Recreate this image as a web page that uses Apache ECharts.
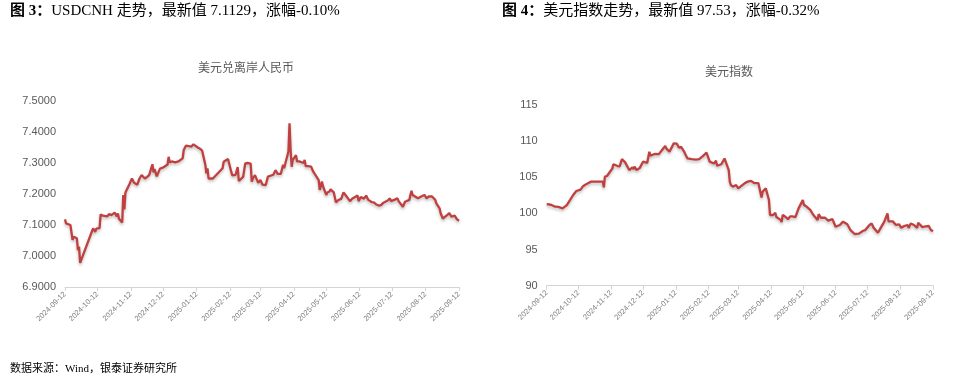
<!DOCTYPE html>
<html><head><meta charset="utf-8">
<script src="https://cdn.jsdelivr.net/npm/echarts@6/dist/echarts.min.js"></script>
<style>html,body{margin:0;padding:0;background:#fff}#c{width:964px;height:382px}</style>
</head><body><div id="c"></div>
<script>
const tickLabels = ['2024-09-12','2024-10-12','2024-11-12','2024-12-12','2025-01-12','2025-02-12','2025-03-12','2025-04-12','2025-05-12','2025-06-12','2025-07-12','2025-08-12','2025-09-12'];

const cnhDates = ['2024-09-12','2024-09-13','2024-09-17','2024-09-19','2024-09-20','2024-09-23','2024-09-24','2024-09-25','2024-09-26','2024-10-08','2024-10-10','2024-10-11','2024-10-14','2024-10-15','2024-10-17','2024-10-18','2024-10-21','2024-10-23','2024-10-25','2024-10-28','2024-10-30','2024-10-31','2024-11-01','2024-11-04','2024-11-05','2024-11-06','2024-11-07','2024-11-08','2024-11-11','2024-11-13','2024-11-15','2024-11-18','2024-11-20','2024-11-22','2024-11-25','2024-11-27','2024-11-29','2024-12-02','2024-12-03','2024-12-04','2024-12-06','2024-12-09','2024-12-11','2024-12-13','2024-12-16','2024-12-17','2024-12-18','2024-12-20','2024-12-23','2024-12-26','2024-12-30','2024-12-31','2025-01-02','2025-01-03','2025-01-07','2025-01-09','2025-01-13','2025-01-15','2025-01-17','2025-01-20','2025-01-21','2025-01-22','2025-01-23','2025-01-27','2025-02-05','2025-02-06','2025-02-10','2025-02-11','2025-02-13','2025-02-14','2025-02-17','2025-02-19','2025-02-20','2025-02-24','2025-02-25','2025-02-26','2025-02-28','2025-03-03','2025-03-04','2025-03-05','2025-03-07','2025-03-10','2025-03-12','2025-03-14','2025-03-17','2025-03-19','2025-03-24','2025-03-26','2025-03-28','2025-03-31','2025-04-02','2025-04-03','2025-04-07','2025-04-08','2025-04-09','2025-04-10','2025-04-11','2025-04-14','2025-04-15','2025-04-17','2025-04-21','2025-04-22','2025-04-23','2025-04-25','2025-04-28','2025-04-30','2025-05-05','2025-05-06','2025-05-08','2025-05-09','2025-05-12','2025-05-13','2025-05-15','2025-05-16','2025-05-19','2025-05-21','2025-05-23','2025-05-26','2025-05-28','2025-05-30','2025-06-03','2025-06-05','2025-06-06','2025-06-10','2025-06-11','2025-06-13','2025-06-16','2025-06-18','2025-06-20','2025-06-23','2025-06-25','2025-06-27','2025-06-30','2025-07-02','2025-07-04','2025-07-08','2025-07-10','2025-07-11','2025-07-14','2025-07-17','2025-07-18','2025-07-22','2025-07-24','2025-07-28','2025-07-29','2025-07-30','2025-07-31','2025-08-01','2025-08-05','2025-08-08','2025-08-11','2025-08-13','2025-08-15','2025-08-18','2025-08-21','2025-08-22','2025-08-25','2025-08-26','2025-08-28','2025-09-01','2025-09-03','2025-09-05','2025-09-08','2025-09-10','2025-09-12'];
const cnhValues = [7.118,7.105,7.100,7.052,7.062,7.057,7.019,7.030,6.978,7.089,7.078,7.088,7.090,7.134,7.130,7.133,7.128,7.135,7.132,7.140,7.128,7.137,7.120,7.108,7.197,7.150,7.205,7.210,7.234,7.250,7.236,7.230,7.250,7.261,7.250,7.255,7.261,7.296,7.270,7.280,7.257,7.282,7.284,7.288,7.295,7.320,7.302,7.305,7.302,7.305,7.315,7.342,7.356,7.350,7.353,7.360,7.350,7.346,7.340,7.294,7.267,7.283,7.250,7.250,7.283,7.304,7.313,7.310,7.272,7.260,7.262,7.287,7.242,7.255,7.260,7.299,7.300,7.298,7.240,7.250,7.261,7.236,7.245,7.230,7.229,7.256,7.262,7.277,7.265,7.265,7.294,7.283,7.337,7.428,7.342,7.288,7.310,7.325,7.305,7.305,7.300,7.310,7.290,7.290,7.288,7.272,7.245,7.213,7.240,7.225,7.197,7.205,7.208,7.215,7.205,7.173,7.180,7.185,7.205,7.196,7.177,7.185,7.181,7.195,7.177,7.190,7.185,7.195,7.181,7.174,7.173,7.167,7.162,7.165,7.172,7.179,7.186,7.177,7.181,7.186,7.177,7.159,7.175,7.181,7.197,7.210,7.197,7.192,7.186,7.192,7.197,7.186,7.192,7.192,7.181,7.170,7.154,7.138,7.121,7.132,7.138,7.127,7.130,7.119,7.113];

const dxyDates = ['2024-09-12','2024-09-16','2024-09-20','2024-09-23','2024-09-25','2024-09-26','2024-09-27','2024-10-01','2024-10-04','2024-10-07','2024-10-10','2024-10-14','2024-10-16','2024-10-18','2024-10-21','2024-10-24','2024-10-28','2024-10-31','2024-11-01','2024-11-04','2024-11-05','2024-11-06','2024-11-08','2024-11-11','2024-11-13','2024-11-14','2024-11-15','2024-11-18','2024-11-20','2024-11-22','2024-11-25','2024-11-26','2024-11-29','2024-12-02','2024-12-03','2024-12-04','2024-12-05','2024-12-06','2024-12-09','2024-12-12','2024-12-16','2024-12-17','2024-12-18','2024-12-19','2024-12-23','2024-12-24','2024-12-27','2024-12-30','2025-01-02','2025-01-03','2025-01-06','2025-01-08','2025-01-10','2025-01-13','2025-01-15','2025-01-17','2025-01-20','2025-01-21','2025-01-22','2025-01-23','2025-01-27','2025-01-31','2025-02-03','2025-02-06','2025-02-10','2025-02-11','2025-02-13','2025-02-17','2025-02-19','2025-02-20','2025-02-24','2025-02-25','2025-02-27','2025-02-28','2025-03-03','2025-03-04','2025-03-05','2025-03-07','2025-03-10','2025-03-12','2025-03-14','2025-03-18','2025-03-21','2025-03-24','2025-03-27','2025-03-31','2025-04-03','2025-04-04','2025-04-07','2025-04-08','2025-04-10','2025-04-11','2025-04-14','2025-04-16','2025-04-17','2025-04-21','2025-04-22','2025-04-23','2025-04-25','2025-04-28','2025-04-30','2025-05-02','2025-05-05','2025-05-08','2025-05-12','2025-05-13','2025-05-15','2025-05-19','2025-05-22','2025-05-26','2025-05-27','2025-05-29','2025-06-02','2025-06-05','2025-06-06','2025-06-09','2025-06-12','2025-06-16','2025-06-19','2025-06-23','2025-06-26','2025-06-30','2025-07-01','2025-07-04','2025-07-08','2025-07-10','2025-07-14','2025-07-16','2025-07-18','2025-07-22','2025-07-25','2025-07-28','2025-07-31','2025-08-01','2025-08-05','2025-08-08','2025-08-11','2025-08-13','2025-08-15','2025-08-19','2025-08-20','2025-08-22','2025-08-25','2025-08-28','2025-08-29','2025-09-02','2025-09-05','2025-09-08','2025-09-10','2025-09-12'];
const dxyValues = [101.3,101.2,100.93,100.9,100.8,100.6,100.7,101.16,101.85,102.55,103.1,103.3,103.7,103.93,104.17,104.4,104.4,104.4,104.2,104.4,103.6,105.08,105.18,105.8,106.2,106.8,106.93,106.56,106.5,107.5,107.1,107.0,106.0,106.38,106.1,106.46,106.2,106.0,106.3,107.16,107.0,107.0,108.54,108.0,108.22,108.2,108.2,108.77,109.33,109.0,108.54,109.1,109.7,109.65,109.1,109.2,108.5,108.2,108.3,107.6,107.5,107.45,107.5,107.85,108.4,108.3,107.16,106.9,107.3,106.6,106.8,106.56,107.6,107.2,106.0,104.4,103.93,103.7,103.93,103.47,103.7,104.17,104.4,104.5,104.2,104.2,102.2,103.0,103.47,103.2,101.85,99.78,99.78,100.1,99.5,99.1,98.8,99.78,99.6,99.2,99.6,99.6,99.5,100.7,101.85,101.2,101.0,100.5,99.78,99.1,99.9,99.4,99.4,99.0,99.2,99.2,98.16,98.4,98.86,98.5,97.7,97.15,96.9,97.2,97.6,97.7,98.4,98.6,98.0,97.33,98.1,98.86,100.0,98.9,98.9,98.4,98.5,98.0,98.2,98.4,98.0,98.6,98.4,98.0,98.7,98.1,98.2,98.26,97.7,97.53];

function ts(s){const p=s.split('-').map(Number);return new Date(p[0],p[1]-1,p[2]).getTime();}
const tickTs = tickLabels.map(ts);
function fmt(v){const d=new Date(v);const m=d.getMonth()+1,day=d.getDate();return d.getFullYear()+'-'+(m<10?'0':'')+m+'-'+(day<10?'0':'')+day;}

const lineColor = '#C0403F';
function xAx(gi){return {
  type:'value', gridIndex:gi, min:tickTs[0], max:tickTs[tickTs.length-1], scale:true,
  axisLine:{show:true,lineStyle:{color:'#d4d4d4',width:1}},
  axisTick:{show:true,customValues:tickTs,length:4,lineStyle:{color:'#d4d4d4'}},
  axisLabel:{customValues:tickTs,rotate:45,fontSize:7.5,color:'#7f7f7f',fontFamily:'Liberation Sans',margin:6,formatter:fmt,showMinLabel:true,showMaxLabel:true},
  splitLine:{show:false}
};}
function yAx(gi,min,max,interval,dec){return {
  type:'value', gridIndex:gi, min:min, max:max, interval:interval,
  axisLine:{show:false}, axisTick:{show:false}, splitLine:{show:false},
  axisLabel:{fontSize:11,color:'#595959',fontFamily:'Liberation Sans',margin:9,formatter:v=>v.toFixed(dec)}
};}
const lineSeries = (xi, dates, vals) => ({
  type:'line', xAxisIndex:xi, yAxisIndex:xi, showSymbol:false, symbol:'none',
  data: dates.map((d,i)=>[ts(d), vals[i]]),
  lineStyle:{color:lineColor,width:2.3,shadowColor:'rgba(0,0,0,0.25)',shadowBlur:3,shadowOffsetY:2},
  animation:false
});

const chart = echarts.init(document.getElementById('c'));
chart.setOption({
  backgroundColor:'#fff',
  animation:false,
  grid:[{left:65,top:101,width:394,height:186},{left:546.7,top:105,width:386.3,height:180.7}],
  xAxis:[xAx(0),xAx(1)],
  yAxis:[yAx(0,6.9,7.5,0.1,4),yAx(1,90,115,5,0)],
  series:[lineSeries(0,cnhDates,cnhValues),lineSeries(1,dxyDates,dxyValues)],
  graphic:[
    {type:'text',left:10,top:4,style:{text:'{b|图 3：}USDCNH 走势，最新值 7.1129，涨幅-0.10%',fontSize:15,fill:'#000',fontFamily:'Liberation Serif, Noto Sans CJK SC',rich:{b:{fontWeight:'bold',fontSize:15,fontFamily:'Liberation Serif, Noto Sans CJK SC'}}}},
    {type:'text',left:502,top:4,style:{text:'{b|图 4：}美元指数走势，最新值 97.53，涨幅-0.32%',fontSize:15,fill:'#000',fontFamily:'Liberation Serif, Noto Sans CJK SC',rich:{b:{fontWeight:'bold',fontSize:15,fontFamily:'Liberation Serif, Noto Sans CJK SC'}}}},
    {type:'text',x:246,y:67,style:{text:'美元兑离岸人民币',fontSize:12,fill:'#595959',fontFamily:'Noto Sans CJK SC',align:'center',verticalAlign:'middle'}},
    {type:'text',x:729,y:71,style:{text:'美元指数',fontSize:12,fill:'#595959',fontFamily:'Noto Sans CJK SC',align:'center',verticalAlign:'middle'}},
    {type:'text',left:10,top:364,style:{text:'数据来源：Wind，银泰证券研究所',fontSize:11,fill:'#000',fontFamily:'Liberation Serif, Noto Sans CJK SC'}}
  ]
});
</script></body></html>
